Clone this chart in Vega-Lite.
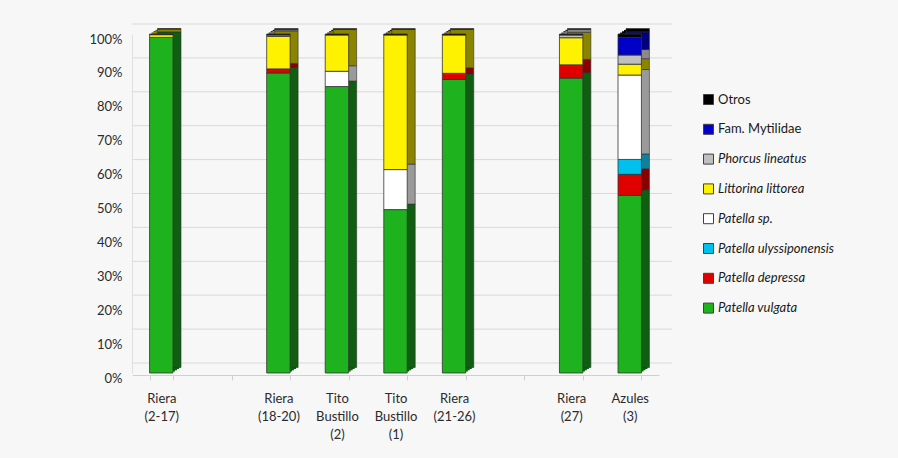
{
  "$schema": "https://vega.github.io/schema/vega-lite/v6.json",
  "width": 527,
  "height": 339,
  "autosize": "none",
  "padding": {"left": 132, "top": 34, "right": 239, "bottom": 85},
  "background": "#f7f7f7",
  "config": {
    "view": {"stroke": null},
    "font": "Lato",
    "axis": {"labelFont": "Lato", "labelColor": "#2b2b2b"},
    "legend": {"labelFont": "Lato", "labelColor": "#1a1a1a"}
  },
  "datasets": {
    "grid": [{"v": 0}, {"v": 10}, {"v": 20}, {"v": 30}, {"v": 40}, {"v": 50}, {"v": 60}, {"v": 70}, {"v": 80}, {"v": 90}, {"v": 100}],
    "shells": [
      {"site": "Riera|(2-17)", "species": "Patella vulgata", "pct": 99.0},
      {"site": "Riera|(2-17)", "species": "Littorina littorea", "pct": 0.8},
      {"site": "Riera|(2-17)", "species": "Otros", "pct": 0.2},
      {"site": "Riera|(18-20)", "species": "Patella vulgata", "pct": 88.5},
      {"site": "Riera|(18-20)", "species": "Patella depressa", "pct": 1.2},
      {"site": "Riera|(18-20)", "species": "Littorina littorea", "pct": 9.6},
      {"site": "Riera|(18-20)", "species": "Phorcus lineatus", "pct": 0.4},
      {"site": "Riera|(18-20)", "species": "Otros", "pct": 0.3},
      {"site": "Tito|Bustillo|(2)", "species": "Patella vulgata", "pct": 84.5},
      {"site": "Tito|Bustillo|(2)", "species": "Patella sp.", "pct": 4.5},
      {"site": "Tito|Bustillo|(2)", "species": "Littorina littorea", "pct": 10.7},
      {"site": "Tito|Bustillo|(2)", "species": "Otros", "pct": 0.3},
      {"site": "Tito|Bustillo|(1)", "species": "Patella vulgata", "pct": 48.2},
      {"site": "Tito|Bustillo|(1)", "species": "Patella sp.", "pct": 11.8},
      {"site": "Tito|Bustillo|(1)", "species": "Littorina littorea", "pct": 39.7},
      {"site": "Tito|Bustillo|(1)", "species": "Otros", "pct": 0.3},
      {"site": "Riera|(21-26)", "species": "Patella vulgata", "pct": 86.6},
      {"site": "Riera|(21-26)", "species": "Patella depressa", "pct": 1.8},
      {"site": "Riera|(21-26)", "species": "Littorina littorea", "pct": 11.3},
      {"site": "Riera|(21-26)", "species": "Otros", "pct": 0.3},
      {"site": "Riera|(27)", "species": "Patella vulgata", "pct": 87.0},
      {"site": "Riera|(27)", "species": "Patella depressa", "pct": 3.9},
      {"site": "Riera|(27)", "species": "Littorina littorea", "pct": 8.0},
      {"site": "Riera|(27)", "species": "Phorcus lineatus", "pct": 0.8},
      {"site": "Riera|(27)", "species": "Otros", "pct": 0.3},
      {"site": "Azules|(3)", "species": "Patella vulgata", "pct": 52.4},
      {"site": "Azules|(3)", "species": "Patella depressa", "pct": 6.2},
      {"site": "Azules|(3)", "species": "Patella ulyssiponensis", "pct": 4.4},
      {"site": "Azules|(3)", "species": "Patella sp.", "pct": 24.9},
      {"site": "Azules|(3)", "species": "Littorina littorea", "pct": 3.2},
      {"site": "Azules|(3)", "species": "Phorcus lineatus", "pct": 2.7},
      {"site": "Azules|(3)", "species": "Fam. Mytilidae", "pct": 5.2},
      {"site": "Azules|(3)", "species": "Otros", "pct": 1.0}
    ]
  },
  "layer": [
    {
      "data": {"name": "grid"},
      "mark": {"type": "rule", "color": "#d9d9d9", "strokeWidth": 1, "xOffset": 13, "x2Offset": 9, "yOffset": -10},
      "encoding": {
        "y": {
          "field": "v",
          "type": "quantitative",
          "scale": {"domain": [0, 100]},
          "axis": {
            "title": null,
            "values": [0, 10, 20, 30, 40, 50, 60, 70, 80, 90, 100],
            "labelExpr": "datum.value + '%'",
            "labelOverlap": false,
            "labelFontSize": 13,
            "labelPadding": 10,
            "labelOffset": 5,
            "ticks": false,
            "grid": false,
            "domainColor": "#e0e0e0"
          }
        }
      }
    },
    {
      "data": {"name": "shells"},
      "transform": [
        {"calculate": "indexof(['Otros','Fam. Mytilidae','Phorcus lineatus','Littorina littorea','Patella sp.','Patella ulyssiponensis','Patella depressa','Patella vulgata'], datum.species)", "as": "rank"}
      ],
      "encoding": {
        "x": {
          "field": "site",
          "type": "nominal",
          "scale": {
            "domain": ["Riera|(2-17)", "gap1", "Riera|(18-20)", "Tito|Bustillo|(2)", "Tito|Bustillo|(1)", "Riera|(21-26)", "gap2", "Riera|(27)", "Azules|(3)"],
            "paddingInner": 0.6,
            "paddingOuter": 0.3
          },
          "axis": {
            "title": null,
            "labelAngle": 0,
            "labelExpr": "indexof(datum.label, 'gap') == 0 ? '' : split(datum.label, '|')",
            "labelFontSize": 13,
            "labelLineHeight": 18,
            "labelPadding": 12,
            "domainColor": "#d0d0d0",
            "tickColor": "#d0d0d0",
            "tickBand": "extent",
            "tickSize": 5,
            "offset": 2
          }
        },
        "y": {
          "field": "pct",
          "type": "quantitative",
          "stack": "zero",
          "scale": {"domain": [0, 100]},
          "axis": {
            "title": null,
            "values": [0, 10, 20, 30, 40, 50, 60, 70, 80, 90, 100],
            "labelExpr": "datum.value + '%'",
            "labelOverlap": false,
            "labelFontSize": 13,
            "labelPadding": 10,
            "labelOffset": 5,
            "ticks": false,
            "grid": false,
            "domainColor": "#e0e0e0"
          }
        },
        "order": {"field": "rank", "type": "quantitative", "sort": "descending"}
      },
      "layer": [
        {
          "mark": {"type": "bar", "xOffset": 2, "x2Offset": 2, "yOffset": -1.4, "y2Offset": -1.4},
          "encoding": {
            "color": {
              "field": "species",
              "type": "nominal",
              "legend": null,
              "scale": {
                "domain": ["Fam. Mytilidae", "Littorina littorea", "Otros", "Patella depressa", "Patella sp.", "Patella ulyssiponensis", "Patella vulgata", "Phorcus lineatus"],
                "range": ["#00007a", "#8a8400", "#000000", "#8a0000", "#9a9a9a", "#12809a", "#0f5e12", "#8a8a8a"]
              }
            }
          }
        },
        {
          "mark": {"type": "bar", "xOffset": 4, "x2Offset": 4, "yOffset": -2.8, "y2Offset": -2.8},
          "encoding": {"color": {"field": "species", "type": "nominal", "legend": null}}
        },
        {
          "mark": {"type": "bar", "xOffset": 6, "x2Offset": 6, "yOffset": -4.1, "y2Offset": -4.1},
          "encoding": {"color": {"field": "species", "type": "nominal", "legend": null}}
        },
        {
          "mark": {"type": "bar", "xOffset": 8, "x2Offset": 8, "yOffset": -5.5, "y2Offset": -5.5, "stroke": "#303030", "strokeWidth": 0.6},
          "encoding": {"color": {"field": "species", "type": "nominal", "legend": null}}
        },
        {
          "mark": {"type": "bar", "stroke": "#333333", "strokeWidth": 0.8},
          "encoding": {
            "fill": {
              "field": "species",
              "type": "nominal",
              "scale": {
                "domain": ["Otros", "Fam. Mytilidae", "Phorcus lineatus", "Littorina littorea", "Patella sp.", "Patella ulyssiponensis", "Patella depressa", "Patella vulgata"],
                "range": ["#000000", "#0000c8", "#bfbfbf", "#fff200", "#ffffff", "#00c0ee", "#e00000", "#1fb21f"]
              },
              "legend": {
                "title": null,
                "orient": "none",
                "legendX": 570,
                "legendY": 59,
                "symbolType": "square",
                "symbolSize": 100,
                "symbolStrokeColor": "#404040",
                "symbolStrokeWidth": 1,
                "labelFontSize": 13,
                "labelOffset": 3,
                "rowPadding": 14.8,
                "labelLimit": 200,
                "encode": {
                  "labels": {
                    "update": {
                      "fontStyle": {"signal": "datum.label === 'Otros' || datum.label === 'Fam. Mytilidae' ? 'normal' : 'italic'"}
                    }
                  }
                }
              }
            }
          }
        }
      ]
    }
  ]
}
